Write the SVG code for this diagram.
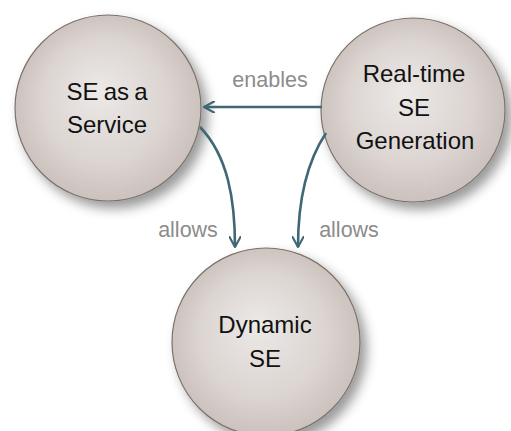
<svg xmlns="http://www.w3.org/2000/svg" width="511" height="431" viewBox="0 0 511 431">
<defs>
<radialGradient id="g" cx="0.5" cy="0.5" r="0.55" fx="0.45" fy="0.4">
<stop offset="0" stop-color="#ece9e7"/>
<stop offset="0.6" stop-color="#dcd5d2"/>
<stop offset="1" stop-color="#c7bdb8"/>
</radialGradient>
<filter id="sh" x="-30%" y="-30%" width="170%" height="170%">
<feDropShadow dx="6" dy="7" stdDeviation="6" flood-color="#000" flood-opacity="0.4"/>
</filter>
<marker id="ah" viewBox="0 0 12 12" refX="11" refY="6" markerWidth="12" markerHeight="12" markerUnits="userSpaceOnUse" orient="auto">
<path d="M1,0.5 L11,6 L1,11.5" fill="none" stroke="#3f6874" stroke-width="2.2" stroke-linecap="round" stroke-linejoin="round"/>
</marker>
</defs>
<style>
.node circle{fill:url(#g);stroke:#7c716b;stroke-width:1.2;filter:url(#sh)}
.nt{font-family:"Liberation Sans",Arial,sans-serif;font-size:24px;fill:#111;text-anchor:middle}
.lbl{font-family:"Liberation Sans",Arial,sans-serif;font-size:21.5px;fill:#8c8c8c;text-anchor:middle}
.edge{fill:none;stroke:#3f6874;stroke-width:2.6;marker-end:url(#ah)}
</style>
<rect width="511" height="431" fill="#fff"/>
<g id="n1" class="node">
<circle cx="108" cy="108" r="93"/>
<text class="nt" x="107" y="100" word-spacing="-1.5">SE as a</text>
<text class="nt" x="107" y="133">Service</text>
</g>
<g id="n2" class="node">
<circle cx="413" cy="110" r="92"/>
<text class="nt" x="414" y="82">Real-time</text>
<text class="nt" x="414" y="116">SE</text>
<text class="nt" x="415" y="149">Generation</text>
</g>
<g id="n3" class="node">
<circle cx="266" cy="342" r="94"/>
<text class="nt" x="265" y="333">Dynamic</text>
<text class="nt" x="265" y="367">SE</text>
</g>
<g id="connectors">
<path class="edge" d="M322,107 L204,107"/>
<path class="edge" d="M200,127 C228,156 235,200 235,247"/>
<path class="edge" d="M326,133 C306,163 298,200 298,247"/>
<text class="lbl" x="270" y="87">enables</text>
<text class="lbl" x="188" y="237">allows</text>
<text class="lbl" x="349" y="237">allows</text>
</g>
</svg>
